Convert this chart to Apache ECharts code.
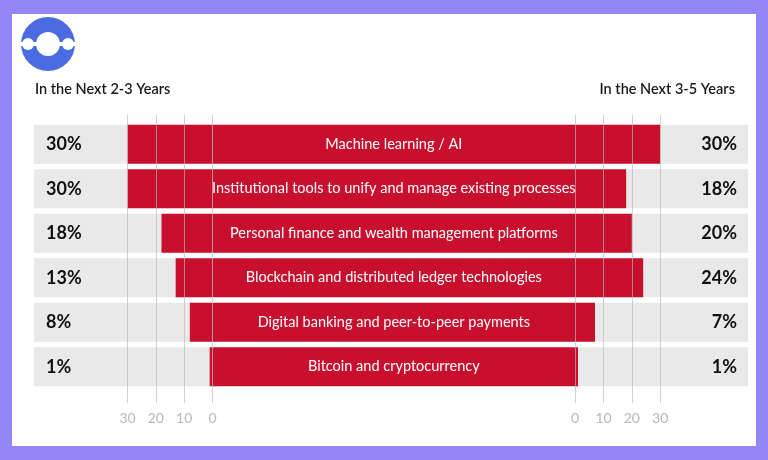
<!DOCTYPE html>
<html>
<head>
<meta charset="utf-8">
<script src="https://cdn.jsdelivr.net/npm/echarts@6/dist/echarts.min.js"></script>
<style>
  html, body { margin: 0; padding: 0; }
  #main { width: 768px; height: 460px; }
</style>
</head>
<body>
<div id="main"></div>
<script>
// data
const categories = [
    'Machine learning / AI',
    'Institutional tools to unify and manage existing processes',
    'Personal finance and wealth management platforms',
    'Blockchain and distributed ledger technologies',
    'Digital banking and peer-to-peer payments',
    'Bitcoin and cryptocurrency'
]
const next23 = [30, 30, 18, 13, 8, 1]   // In the Next 2-3 Years
const next35 = [30, 18, 20, 24, 7, 1]   // In the Next 3-5 Years
const tickValues = [0, 10, 20, 30]

// width of the middle label band, in axis units
const MID = 128
const RED = '#c8102e'
const FONT = 'Lato, "Open Sans", sans-serif'

const leftTicks = tickValues.map(v => -v)
const rightTicks = tickValues.map(v => MID + v)
const allTicks = leftTicks.concat(rightTicks)

const option = {
    backgroundColor: '#9386f6',
    animation: false,
    textStyle: { fontFamily: FONT },
    graphic: [
        { type: 'rect', z: -100, shape: { x: 12, y: 14, width: 744, height: 432 }, style: { fill: '#fff' } },
        {
            type: 'group', left: 21, top: 17,
            children: [
                { type: 'circle', shape: { cx: 27, cy: 27, r: 27 }, style: { fill: '#4a6ce0' } },
                { type: 'rect', shape: { x: 0, y: 25, width: 54, height: 4 }, style: { fill: '#fff' } },
                { type: 'circle', shape: { cx: 7, cy: 27, r: 6 }, style: { fill: '#fff' } },
                { type: 'circle', shape: { cx: 47, cy: 27, r: 6 }, style: { fill: '#fff' } },
                { type: 'circle', shape: { cx: 27, cy: 27, r: 12 }, style: { fill: '#fff' } }
            ]
        },
        {
            type: 'text', left: 35, top: 82,
            style: { text: 'In the Next 2-3 Years', fontSize: 14.5, fontWeight: 600, fill: '#1a1a1a', fontFamily: FONT }
        },
        {
            type: 'text', right: 33, top: 82,
            style: { text: 'In the Next 3-5 Years', fontSize: 14.5, fontWeight: 600, fill: '#1a1a1a', fontFamily: FONT }
        }
    ],
    grid: [
        { left: 34, right: 20, top: 122, bottom: 71 },
        { left: 34, right: 20, top: 115, bottom: 57 }
    ],
    xAxis: [
        {
            type: 'value', gridIndex: 0, min: -63, max: 189,
            axisLine: { show: false }, axisTick: { show: false },
            axisLabel: { show: false }, splitLine: { show: false }
        },
        {
            type: 'value', gridIndex: 1, min: -63, max: 189, z: 10,
            axisLine: { show: false },
            axisTick: { show: false, customValues: allTicks },
            splitLine: { show: true, lineStyle: { color: 'rgba(185,185,185,0.65)', width: 1 } },
            axisLabel: {
                customValues: allTicks,
                margin: 8,
                color: '#b8b8b8',
                fontSize: 14,
                fontFamily: FONT,
                formatter: v => String(Math.round(v <= 0 ? -v : v - MID))
            }
        }
    ],
    yAxis: [
        {
            type: 'category', gridIndex: 0, inverse: true, data: categories,
            position: 'left', z: 10,
            axisLine: { show: false }, axisTick: { show: false },
            axisLabel: {
                inside: true, margin: 12, fontSize: 18, fontWeight: 'bold', color: '#111',
                fontFamily: FONT,
                formatter: (val, idx) => next23[idx] + '%'
            }
        },
        {
            type: 'category', gridIndex: 0, inverse: true, data: categories,
            position: 'right', z: 10,
            axisLine: { show: false }, axisTick: { show: false },
            axisLabel: {
                inside: true, margin: 11, fontSize: 18, fontWeight: 'bold', color: '#111',
                fontFamily: FONT,
                formatter: (val, idx) => next35[idx] + '%'
            }
        },
        { type: 'value', gridIndex: 1, show: false }
    ],
    series: [
        {
            name: 'In the Next 2-3 Years',
            type: 'bar', xAxisIndex: 0, yAxisIndex: 0,
            barWidth: 39, barGap: '-100%',
            showBackground: true,
            backgroundStyle: { color: '#e9e9e9' },
            itemStyle: { color: RED },
            data: next23.map(v => -v)
        },
        {
            name: 'In the Next 3-5 Years',
            type: 'bar', xAxisIndex: 0, yAxisIndex: 0,
            barWidth: 39, barGap: '-100%',
            itemStyle: { color: RED },
            data: next35.map(v => MID + v)
        },
        {
            name: 'label',
            type: 'bar', xAxisIndex: 0, yAxisIndex: 0,
            barWidth: 39, barGap: '-100%',
            itemStyle: { color: 'rgba(0,0,0,0)' },
            label: {
                show: true, position: 'inside', formatter: '{b}',
                color: '#fff', fontSize: 14.5, fontFamily: FONT
            },
            data: categories.map(() => MID)
        }
    ]
}

const myChart = echarts.init(document.getElementById('main'))
myChart.setOption(option)
window.onresize = function () {
    myChart.resize()
}
</script>
</body>
</html>
